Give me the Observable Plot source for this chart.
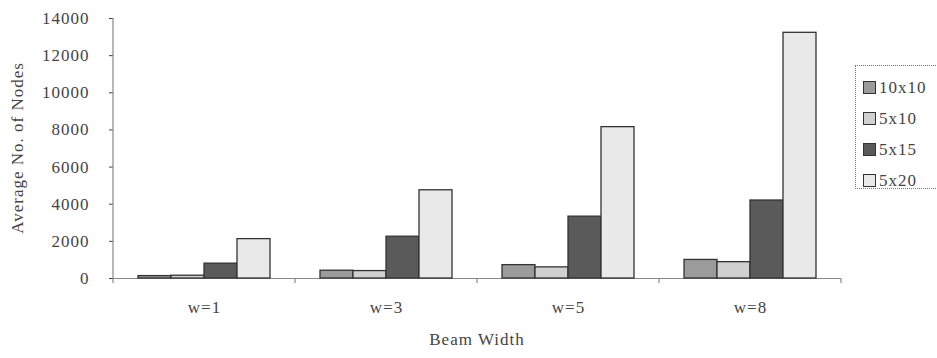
<!DOCTYPE html>
<html>
<head>
<meta charset="utf-8">
<script src="https://cdn.jsdelivr.net/npm/d3@7"></script>
<script src="https://cdn.jsdelivr.net/npm/@observablehq/plot@0.6"></script>
<style>
  body { margin: 0; background: #fff; }
  #wrap { position: relative; width: 937px; height: 358px; font-family: "Liberation Serif", serif; }
  #legend { position: absolute; left: 855px; top: 65px; width: 95px; height: 124px; border: 1px dotted #777; box-sizing: border-box; padding-top: 6px; }
  .item { display: flex; align-items: center; height: 31px; padding-left: 7px; font-size: 17px; color: #444; letter-spacing: 1px; }
  .sw { width: 11px; height: 11px; border: 1px solid #333; margin-right: 3px; }
</style>
</head>
<body>
<div id="wrap"><div id="legend"></div></div>
<script>
const categories = ["w=1", "w=3", "w=5", "w=8"];
const series = ["10x10", "5x10", "5x15", "5x20"];
const v10x10 = [130, 420, 720, 1000];
const v5x10 = [150, 400, 600, 880];
const v5x15 = [800, 2250, 3330, 4200];
const v5x20 = [2120, 4750, 8150, 13230];
const yTicks = [0, 2000, 4000, 6000, 8000, 10000, 12000, 14000];
const colors = ["#9b9b9b", "#d0d0d0", "#5a5a5a", "#e9e9e9"];
const yTitle = "Average No. of Nodes";
const xTitle = "Beam Width";

const valuesBySeries = [v10x10, v5x10, v5x15, v5x20];
const data = [];
categories.forEach((w, i) => series.forEach((s, j) => data.push({w, s, v: valuesBySeries[j][i]})));

const plot = Plot.plot({
  width: 937,
  height: 358,
  marginLeft: 112,
  marginRight: 95,
  marginTop: 18,
  marginBottom: 80,
  style: {fontFamily: "Liberation Serif", fontSize: "17px", color: "#444", background: "transparent", letterSpacing: "1px"},
  fx: {domain: categories, padding: 0, label: null, tickSize: 0, tickPadding: 22},
  x: {domain: series, paddingInner: 0, paddingOuter: 0.68, axis: null},
  y: {domain: [0, 14000], ticks: yTicks, tickFormat: d3.format("d"), tickSize: 4, tickPadding: 20, label: null},
  color: {domain: series, range: colors},
  marks: [
    Plot.ruleY([0], {stroke: "#888", strokeWidth: 1.2}),
    Plot.barY(data, {fx: "w", x: "s", y: "v", fill: "s", stroke: "#333", strokeWidth: 1.3})
  ]
});
document.getElementById("wrap").prepend(plot);

// axis line, boundary ticks and titles from Plot's own scales
const fx = plot.scale("fx");
const y = plot.scale("y");
const svg = d3.select(plot);
const g = svg.append("g").attr("stroke", "#888").attr("stroke-width", 1.2);
const x0 = fx.apply(categories[0]);
const xEnd = fx.apply(categories[categories.length - 1]) + fx.bandwidth;
const xs = categories.map(c => fx.apply(c)).concat([xEnd]);
const yTop = y.apply(14000), yBot = y.apply(0);
g.append("line").attr("x1", x0).attr("x2", x0).attr("y1", yTop).attr("y2", yBot);
xs.forEach(x => g.append("line").attr("x1", x).attr("x2", x).attr("y1", yBot).attr("y2", yBot + 5));

svg.append("text")
  .attr("transform", `translate(19,${(yTop + yBot) / 2}) rotate(-90)`)
  .attr("text-anchor", "middle").attr("dominant-baseline", "middle")
  .attr("fill", "#444").style("font-size", "17px").text(yTitle);
svg.append("text")
  .attr("x", (x0 + xEnd) / 2).attr("y", 345)
  .attr("text-anchor", "middle")
  .attr("fill", "#444").style("font-size", "17px").text(xTitle);

// legend
const legend = d3.select("#legend");
series.forEach((s, i) => {
  const it = legend.append("div").attr("class", "item");
  it.append("div").attr("class", "sw").style("background", colors[i]);
  it.append("span").text(s);
});
</script>
</body>
</html>
